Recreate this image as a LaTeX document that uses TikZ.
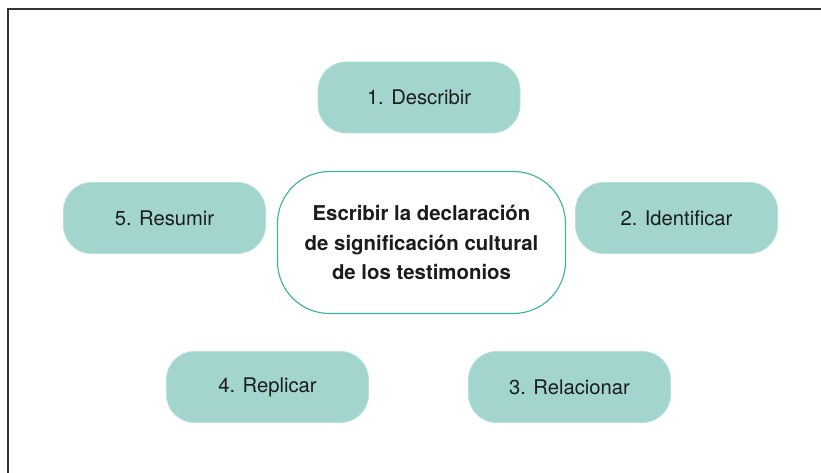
\documentclass[tikz,border=0pt]{standalone}
\usepackage{fontspec}
\setmainfont{TeX Gyre Heros}
\usepackage{xcolor}
\usepackage{tikz}
\usetikzlibrary{positioning}
\definecolor{stagebg}{RGB}{161,213,206}
\definecolor{stageborder}{RGB}{183,224,218}
\definecolor{coreborder}{RGB}{58,179,160}
\definecolor{inktext}{RGB}{28,28,28}
\tikzstyle{stage} = [rectangle, rounded corners=28pt, minimum width=202pt, minimum height=71pt, fill=stagebg, draw=stageborder, line width=0.8pt, text=inktext, font=\fontsize{20.2}{24}\selectfont]
\tikzstyle{core} = [rectangle, rounded corners=52pt, minimum width=288pt, minimum height=142pt, fill=white, draw=coreborder, line width=1.1pt, text=inktext, align=center, font=\fontsize{20.4}{29.8}\selectfont\bfseries]
\tikzstyle{frame} = [line width=1.3pt, draw=black!80]

\begin{document}
\begin{tikzpicture}[x=1pt,y=-1pt]
    \useasboundingbox (0,0) rectangle (821,473);
    \draw[frame] (821,9) -- (8,9) -- (8,473);

    \node[core] (center) at (421.5,242.5) {Escribir la declaración\\de significación cultural\\de los testimonios};

    \node[stage] (describir) at (419,97.5) {1. Describir};
    \node[stage] (identificar) at (676.5,218) {2. Identificar};
    \node[stage] (relacionar) at (569.5,387) {3. Relacionar};
    \node[stage] (replicar) at (267.5,387) {4. Replicar};
    \node[stage] (resumir) at (164.5,218) {5. Resumir};
\end{tikzpicture}
\end{document}
